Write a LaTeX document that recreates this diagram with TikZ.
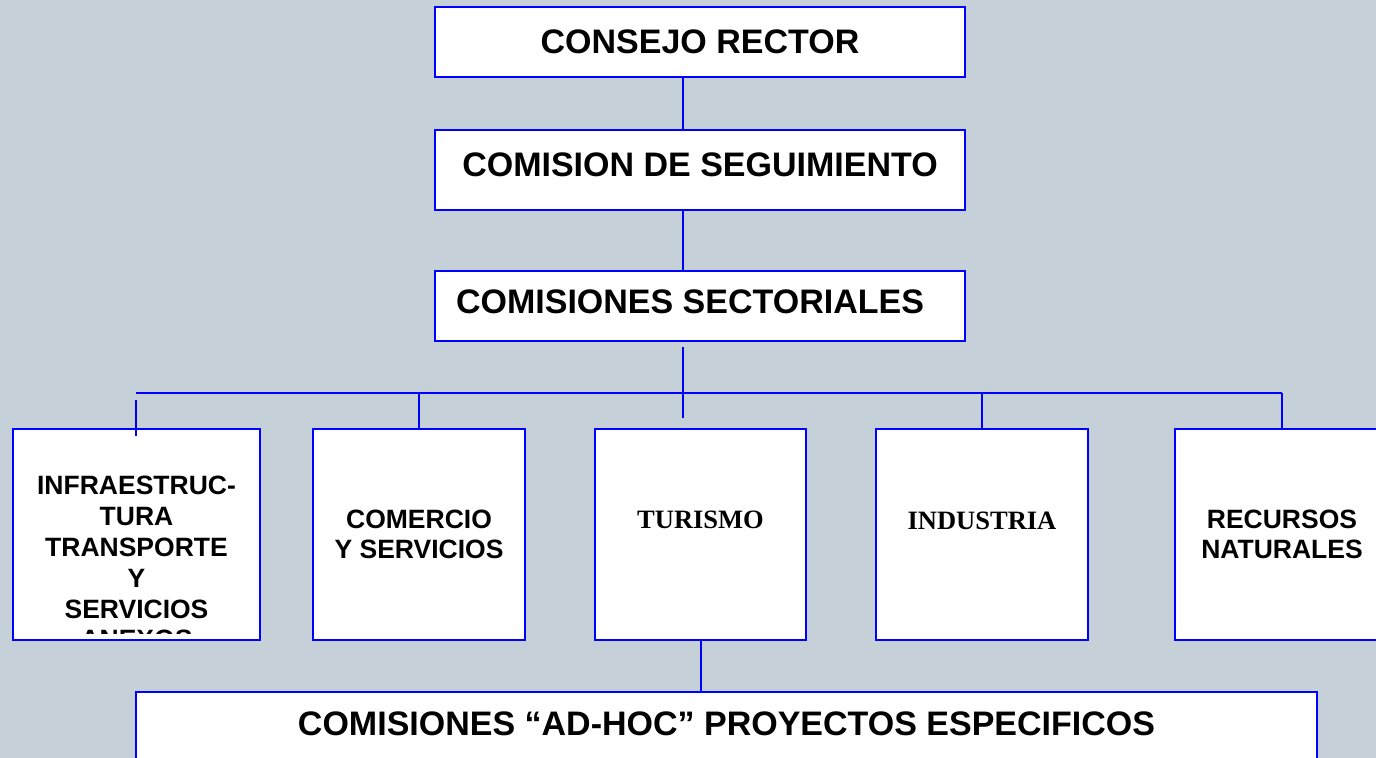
\documentclass[tikz,border=0pt]{standalone}
\usepackage{fontspec}
\setmainfont{Liberation Sans}
\newfontfamily\timesb{Liberation Serif}
\usepackage{tikz}
\usetikzlibrary{positioning,calc}
\definecolor{bgcol}{RGB}{197,208,216}
\definecolor{edgeblue}{RGB}{0,0,255}
\tikzset{orgbox/.style={draw=edgeblue,fill=white,line width=1pt,inner sep=0pt,align=center,font=\fontsize{17}{20}\selectfont\bfseries},
         sector/.style={orgbox,minimum height=105.5pt,font=\fontsize{13.25}{15.25}\selectfont\bfseries},
         link/.style={draw=edgeblue,line width=1pt}
}
\begin{document}
\begin{tikzpicture}[x=0.5pt,y=0.5pt,yscale=-1,xscale=1]
\clip (0,0) rectangle (1376,758);
\fill[bgcol] (0,0) rectangle (1376,758);

%Box: top levels
\node[orgbox,minimum width=265pt,minimum height=35pt] (rector) at (700,42) {CONSEJO RECTOR};
\node[orgbox,minimum width=265pt,minimum height=40pt,text depth=5pt] (seguimiento) at (700,170) {COMISION DE SEGUIMIENTO};
\node[orgbox,minimum width=265pt,minimum height=35pt,text depth=4pt] (sectoriales) at (700,306) {\hspace*{-10pt}COMISIONES SECTORIALES};

%Box: sectors
\node[sector,minimum width=123.5pt] (infra) at (136.5,534.5) {};
\node[sector,minimum width=106pt] (comercio) at (419,534.5) {COMERCIO\\Y SERVICIOS};
\node[sector,minimum width=105.5pt,text depth=15pt,font=\fontsize{13.25}{15.25}\selectfont\timesb\bfseries] (turismo) at (700.5,534.5) {TURISMO};
\node[sector,minimum width=106pt,text depth=14pt,font=\fontsize{13.25}{15.25}\selectfont\timesb\bfseries] (industria) at (982,534.5) {INDUSTRIA};
\node[sector,minimum width=107pt] (recursos) at (1282,534.5) {RECURSOS\\NATURALES};

%Text Node, cut by the box
\coordinate (infraclip) at (258,634);
\begin{scope}
\clip (infra.north west) rectangle (infraclip);
\node[anchor=north,inner sep=0pt,align=center,font=\fontsize{13.25}{15.4}\selectfont\bfseries] (infratext) at (136.5,476) {INFRAESTRUC-\\TURA\\TRANSPORTE\\Y\\SERVICIOS\\ANEXOS};
\end{scope}

%Box: bottom
\node[orgbox,minimum width=590.5pt,minimum height=48pt,text depth=16pt] (adhoc) at (726.5,740) {COMISIONES “AD-HOC” PROYECTOS ESPECIFICOS};

%Straight Lines
\coordinate (trunk) at (683,0);
\coordinate (trunktop) at (683,347);
\coordinate (trunkbot) at (683,418);
\coordinate (busL) at (136,393);
\coordinate (busR) at (1282,393);
\coordinate (infrastub) at (136,400);
\coordinate (infrastubend) at (136,436);
\draw[link] (rector.south -| trunk) -- (seguimiento.north -| trunk);
\draw[link] (seguimiento.south -| trunk) -- (sectoriales.north -| trunk);
\draw[link] (trunktop) -- (trunkbot);
\draw[link] (busL) -- (busR);
\draw[link] (infrastub) -- (infrastubend);
\draw[link] (comercio.north) -- (comercio.north |- busL);
\draw[link] (industria.north) -- (industria.north |- busL);
\draw[link] (recursos.north) -- (recursos.north |- busL);
\draw[link] (turismo.south) -- (turismo.south |- adhoc.north);

\end{tikzpicture}
\end{document}
